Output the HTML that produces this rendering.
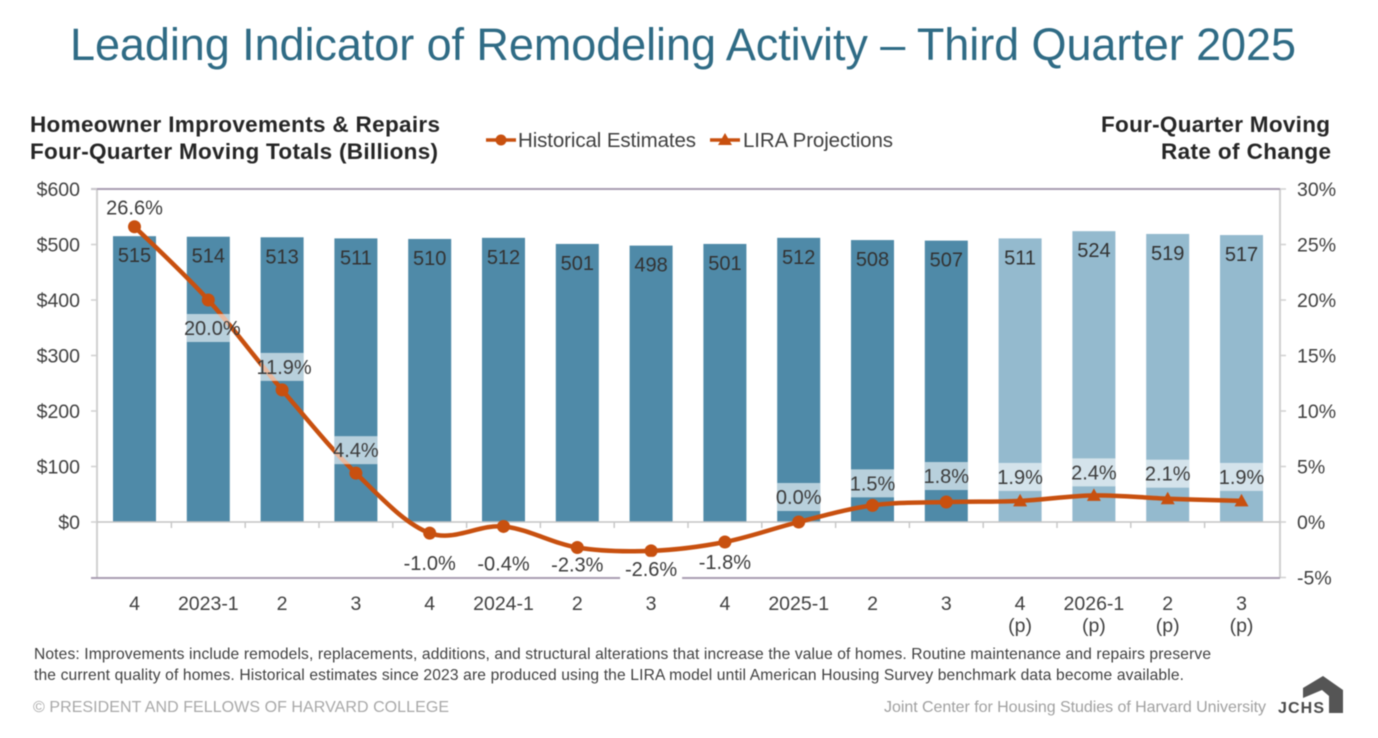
<!DOCTYPE html>
<html lang="en">
<head>
<meta charset="utf-8">
<title>Leading Indicator of Remodeling Activity</title>
<style>
html,body{margin:0;padding:0;background:#fff;width:1378px;height:738px;overflow:hidden}
svg{display:block;filter:blur(0.5px)}
text{font-family:"Liberation Sans",Arial,sans-serif}
</style>
</head>
<body>
<svg id="chart" xmlns="http://www.w3.org/2000/svg" width="1378" height="738" viewBox="0 0 1378 738">
  <text x="70" y="60" font-size="45" fill="#2f6b85" textLength="1226" lengthAdjust="spacing">Leading Indicator of Remodeling Activity – Third Quarter 2025</text>

  <g font-size="22.5" font-weight="bold" fill="#262626">
    <text x="30" y="132" textLength="410" lengthAdjust="spacing">Homeowner Improvements &amp; Repairs</text>
    <text x="30" y="159" textLength="408" lengthAdjust="spacing">Four-Quarter Moving Totals (Billions)</text>
  </g>
  <g font-size="22.5" font-weight="bold" fill="#262626">
    <text x="1101" y="132" textLength="229" lengthAdjust="spacing">Four-Quarter Moving</text>
    <text x="1161" y="159" textLength="170" lengthAdjust="spacing">Rate of Change</text>
  </g>

  <g>
    <g>
      <line x1="486" y1="140" x2="516" y2="140" stroke="#c8500f" stroke-width="3.5"/>
      <circle cx="501" cy="140" r="5.5" fill="#c8500f"/>
      <text x="518" y="147" font-size="20.5" fill="#404040" textLength="178" lengthAdjust="spacing">Historical Estimates</text>
    </g>
    <g>
      <line x1="710" y1="140" x2="740" y2="140" stroke="#c8500f" stroke-width="3.5"/>
      <polygon points="725,133 732,145 718,145" fill="#c8500f"/>
      <text x="743" y="147" font-size="20.5" fill="#404040" textLength="150" lengthAdjust="spacing">LIRA Projections</text>
    </g>
  </g>

  <g id="plot"></g>

  <g font-size="15.6" fill="#404040">
    <text x="34" y="659" textLength="1177" lengthAdjust="spacing">Notes: Improvements include remodels, replacements, additions, and structural alterations that increase the value of homes. Routine maintenance and repairs preserve</text>
    <text x="34" y="680" textLength="1150" lengthAdjust="spacing">the current quality of homes. Historical estimates since 2023 are produced using the LIRA model until American Housing Survey benchmark data become available.</text>
  </g>
  <text x="33" y="712" font-size="16" fill="#a8a8a8" textLength="416" lengthAdjust="spacing">© PRESIDENT AND FELLOWS OF HARVARD COLLEGE</text>
  <text x="884" y="712" font-size="16" fill="#a0a0a0" textLength="382" lengthAdjust="spacing">Joint Center for Housing Studies of Harvard University</text>
  <g>
    <polygon points="1303,688 1323,676 1343,690 1343,713 1329,713 1329,696 1322,690 1303,698" fill="#555"/>
    <text x="1278" y="713" font-size="16" font-weight="bold" fill="#4a4a4a" textLength="46" lengthAdjust="spacing">JCHS</text>
  </g>
</svg>
<script>
const categories = ['4','2023-1','2','3','4','2024-1','2','3','4','2025-1','2','3','4','2026-1','2','3'];
const isProjection = [false,false,false,false,false,false,false,false,false,false,false,false,true,true,true,true];
const barValues = [515,514,513,511,510,512,501,498,501,512,508,507,511,524,519,517];
const rateValues = [26.6,20.0,11.9,4.4,-1.0,-0.4,-2.3,-2.6,-1.8,0.0,1.5,1.8,1.9,2.4,2.1,1.9];
const leftTickValues = [0,100,200,300,400,500,600];
const rightTickValues = [-5,0,5,10,15,20,25,30];
const rateLabelNudgeY = [-19,28,-23,-23,30,37,17,18,20,-25,-22,-26,-24,-23,-25,-24];
const rateLabelNudgeX = [0,4,2,0,0,0,0,0,0,0,0,0,0,0,0,0];

const NS = 'http://www.w3.org/2000/svg';
const plot = document.getElementById('plot');
const plotLeft = 97, plotRight = 1280, plotTop = 189, plotBottom = 578, zeroY = 522;
const firstX = 134.5, slot = 73.8;
const barWidth = 43;
const lineColor = '#c8500f';
const labelSize = 19.5;
const xScale = i => firstX + slot * i;
const yLeft = v => zeroY - v * (zeroY - plotTop) / 600;
const yRight = v => zeroY - v * (zeroY - plotTop) / 30;

function make(tag, attrs, text) {
  const el = document.createElementNS(NS, tag);
  for (const k in attrs) el.setAttribute(k, attrs[k]);
  if (text !== undefined) el.textContent = text;
  plot.appendChild(el);
  return el;
}

// bars
categories.forEach((c, i) => {
  const top = yLeft(barValues[i]);
  const el = make('rect', {x: xScale(i) - barWidth / 2, y: top, width: barWidth, height: zeroY - top, fill: isProjection[i] ? '#94bace' : '#4f8aa8'});
  
  
});

// axes and frame
[[plotLeft, plotTop, plotLeft, plotBottom, '#d0d0d0', 2], [plotRight, plotTop, plotRight, plotBottom, '#d0d0d0', 2], [plotLeft, zeroY, plotRight, zeroY, '#c4c4c4', 1.5]].forEach(a => {
  const el = make('line', {x1: a[0], y1: a[1], x2: a[2], y2: a[3], stroke: a[4], 'stroke-width': a[5]});
  
  
});
[plotTop, plotBottom].forEach(y => {
  const el = make('line', {x1: plotLeft - 6, y1: y, x2: plotRight, y2: y, stroke: '#a99db2', 'stroke-width': 2});
  
  
});
for (let i = 1; i < categories.length; i++) {
  const x = firstX + slot * (i - 0.5);
  const el = make('line', {x1: x, y1: zeroY, x2: x, y2: zeroY + 6, stroke: '#c8c8c8', 'stroke-width': 1.5});
  
  
}

// left axis ticks and labels
leftTickValues.forEach(v => {
  const y = yLeft(v);
  const tick = make('line', {x1: plotLeft - 6, y1: y, x2: plotLeft, y2: y, stroke: '#d0d0d0', 'stroke-width': 1.5});
  
  
  const label = make('text', {x: 80, y: y + 7, 'text-anchor': 'end', 'font-size': labelSize, fill: '#404040'}, '$' + v);
  
  
});

// right axis ticks and labels
rightTickValues.forEach(v => {
  const y = yRight(v);
  const tick = make('line', {x1: plotRight, y1: y, x2: plotRight + 6, y2: y, stroke: '#d0d0d0', 'stroke-width': 1.5});
  
  
  const label = make('text', {x: 1297, y: y + 7, 'font-size': labelSize, fill: '#404040'}, v + '%');
  
  
});

// x axis labels
categories.forEach((c, i) => {
  const label = make('text', {x: xScale(i), y: 610, 'text-anchor': 'middle', 'font-size': labelSize, fill: '#404040'}, c);
  
  
  if (isProjection[i]) {
    const p = make('text', {x: xScale(i), y: 632, 'text-anchor': 'middle', 'font-size': labelSize, fill: '#404040'}, '(p)');
    
    
  }
});

// smoothed rate line
const pts = rateValues.map((v, i) => [xScale(i), yRight(v)]);
let d = 'M' + pts[0][0] + ' ' + pts[0][1];
for (let i = 0; i < pts.length - 1; i++) {
  const p0 = pts[Math.max(i - 1, 0)], p1 = pts[i], p2 = pts[i + 1], p3 = pts[Math.min(i + 2, pts.length - 1)];
  d += ' C' + (p1[0] + (p2[0] - p0[0]) / 6) + ' ' + (p1[1] + (p2[1] - p0[1]) / 6) + ' ' +
       (p2[0] - (p3[0] - p1[0]) / 6) + ' ' + (p2[1] - (p3[1] - p1[1]) / 6) + ' ' + p2[0] + ' ' + p2[1];
}
const rateLine = make('path', {d: d, fill: 'none', stroke: lineColor, 'stroke-width': 4.5, 'stroke-linejoin': 'round'});



// markers
pts.forEach((p, i) => {
  let m;
  if (isProjection[i]) {
    m = make('polygon', {points: p[0] + ',' + (p[1] - 7) + ' ' + (p[0] + 7) + ',' + (p[1] + 5.5) + ' ' + (p[0] - 7) + ',' + (p[1] + 5.5), fill: lineColor});
  } else {
    m = make('circle', {cx: p[0], cy: p[1], r: 6.5, fill: lineColor});
  }
  
  
});

// rate labels with translucent bands
rateValues.forEach((v, i) => {
  const cy = yRight(v) + rateLabelNudgeY[i];
  const barTop = yLeft(barValues[i]);
  if (cy > barTop && cy + 14 < zeroY) {
    const band = make('rect', {x: xScale(i) - barWidth / 2, y: cy - 14, width: barWidth, height: 28, fill: '#fff', 'fill-opacity': 0.6});
    
    
  }
  if (cy + 12 > plotBottom) {
    const mask = make('rect', {x: xScale(i) - 31, y: cy - 12, width: 62, height: 24, fill: '#fff'});
    
    
  }
  const label = make('text', {x: xScale(i) + rateLabelNudgeX[i], y: cy + 7, 'text-anchor': 'middle', 'font-size': 20, fill: '#3c3c3c'}, v.toFixed(1) + '%');
  
  
});

// bar labels
barValues.forEach((v, i) => {
  const label = make('text', {x: xScale(i), y: yLeft(v) + 26, 'text-anchor': 'middle', 'font-size': 20, fill: '#333'}, v);
  
  
});
</script>
</body>
</html>
